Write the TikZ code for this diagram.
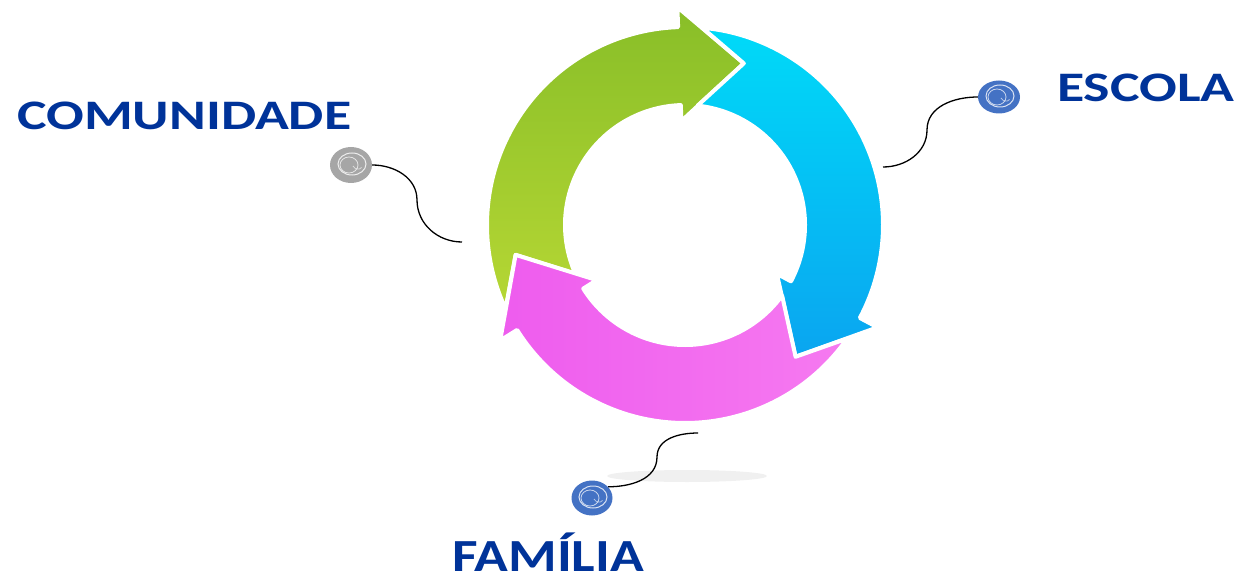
\documentclass[tikz,border=0pt]{standalone}
\usepackage{fontspec}
\newfontfamily\lblfont[FakeStretch=1.33]{Carlito}
\newfontfamily\famfont[FakeStretch=1.21]{Carlito}
\usetikzlibrary{shapes.geometric}
\definecolor{lblblue}{RGB}{0,51,153}
\definecolor{dotblue}{RGB}{68,114,196}
\definecolor{dotgray}{RGB}{166,166,166}
\definecolor{grntop}{RGB}{136,190,40}
\definecolor{grnlow}{RGB}{182,215,52}
\definecolor{cyntop}{RGB}{0,218,248}
\definecolor{cynlow}{RGB}{10,165,240}
\definecolor{pnkleft}{RGB}{238,92,238}
\definecolor{pnkright}{RGB}{246,122,240}
\tikzset{
  arrowpart/.style={draw=white, line width=4pt, line join=round},
  greenarrow/.style={arrowpart, top color=grntop, bottom color=grnlow},
  cyanarrow/.style={arrowpart, top color=cyntop, bottom color=cynlow},
  pinkarrow/.style={arrowpart, left color=pnkleft, right color=pnkright},
  lbl/.style={font=\lblfont\bfseries\fontsize{42}{42}\selectfont, text=lblblue, inner sep=0pt},
  famlbl/.style={lbl, font=\famfont\bfseries\fontsize{46}{46}\selectfont},
  blob/.style={ellipse, fill=#1, inner sep=0pt},
  wire/.style={line width=1.3pt, black}
}
\begin{document}
\begin{tikzpicture}[x=1pt,y=1pt]
\useasboundingbox (0,0) rectangle (1238,579);
% shadow under the ring
\fill[gray!12] (687,103) ellipse [x radius=80, y radius=6];
% the three arrows
\begin{scope}[shift={(685,354)}]
\foreach \b/\st in {92/greenarrow, -28/cyanarrow, 212/pinkarrow}
  \shadedraw[\st] ({\b+113}:198) arc[start angle=\b+113, end angle=\b, radius=198]
    -- (\b:218) -- ({\b-22}:172) -- (\b:104) -- (\b:120)
    arc[start angle=\b, end angle=\b+112, radius=120]
    -- ({\b+98}:172) -- cycle;
\end{scope}
% labels
\node[lbl, anchor=base west] (comunidade) at (17,449) {COMUNIDADE};
\node[lbl, anchor=base west] (escola) at (1057,477) {ESCOLA};
\node[famlbl, anchor=base west] (familia) at (452,8) {FAMÍLIA};
% scribbled dots
\node[blob=dotgray, minimum width=42, minimum height=36] (gdot) at (351,414) {};
\node[blob=dotblue, minimum width=42, minimum height=33] (edot) at (999,482) {};
\node[blob=dotblue, minimum width=41, minimum height=35] (fdot) at (592,81) {};
\foreach \d in {gdot, edot, fdot} {
  \draw[white, line width=1pt, opacity=0.8] ([shift={(1,1)}]\d.center) ellipse [x radius=14, y radius=11];
  \draw[white, line width=0.8pt, opacity=0.7] ([shift={(-2,0)}]\d.center) ellipse [x radius=9, y radius=8];
  \draw[white, line width=0.8pt, opacity=0.6] ([shift={(2,-1)}]\d.center) arc[start angle=200, end angle=320, radius=5];
}
% connectors
\coordinate (gmid) at (417,379);
\coordinate (gend) at (462,337);
\coordinate (emid) at (927,449);
\coordinate (eend) at (883,412);
\coordinate (fmid) at (657,122);
\coordinate (fend) at (698,146);
\draw[wire] (gdot.east) to[out=0, in=90] (gmid) to[out=-90, in=180] (gend);
\draw[wire] (edot.west) to[out=180, in=90] (emid) to[out=-90, in=0] (eend);
\draw[wire] (fend) to[out=180, in=90] (fmid) to[out=-90, in=0] (fdot.35);
\end{tikzpicture}
\end{document}
